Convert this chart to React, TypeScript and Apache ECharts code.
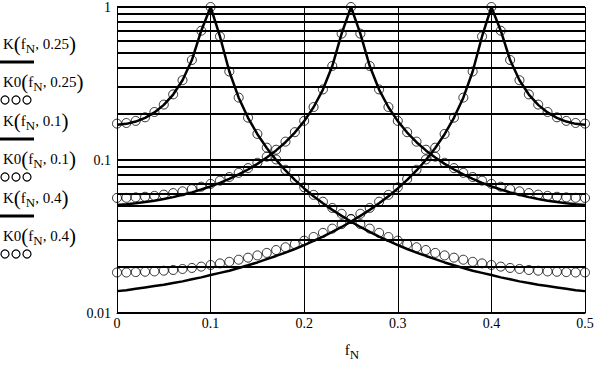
import React, { useEffect, useRef } from "react";
import * as echarts from "echarts";

// normalised frequency f_N (x values)
const F = [
  0, 0.01, 0.02, 0.03, 0.04, 0.05, 0.06, 0.07, 0.08, 0.09, 0.1,
  0.11, 0.12, 0.13, 0.14, 0.15, 0.16, 0.17, 0.18, 0.19, 0.2,
  0.21, 0.22, 0.23, 0.24, 0.25, 0.26, 0.27, 0.28, 0.29, 0.3,
  0.31, 0.32, 0.33, 0.34, 0.35, 0.36, 0.37, 0.38, 0.39, 0.4,
  0.41, 0.42, 0.43, 0.44, 0.45, 0.46, 0.47, 0.48, 0.49, 0.5,
];

// K(f_N, 0.25) – solid line
const K_025 = [
  0.0509, 0.0514, 0.0521, 0.0531, 0.0542, 0.0556, 0.0572, 0.0592, 0.0614, 0.0641, 0.0672,
  0.0709, 0.0753, 0.0805, 0.0867, 0.0943, 0.1037, 0.1155, 0.1307, 0.1511, 0.1794,
  0.2213, 0.2887, 0.4113, 0.6695, 1, 0.6695, 0.4113, 0.2887, 0.2213, 0.1794,
  0.1511, 0.1307, 0.1155, 0.1037, 0.0943, 0.0867, 0.0805, 0.0753, 0.0709, 0.0672,
  0.0641, 0.0614, 0.0592, 0.0572, 0.0556, 0.0542, 0.0531, 0.0521, 0.0514, 0.0509,
];
// K0(f_N, 0.25) – circles
const K0_025 = [
  0.0565, 0.0566, 0.057, 0.0575, 0.0583, 0.0594, 0.0608, 0.0624, 0.0645, 0.0669, 0.0698,
  0.0733, 0.0774, 0.0824, 0.0885, 0.0959, 0.1051, 0.1167, 0.1318, 0.152, 0.1802,
  0.2219, 0.2892, 0.4116, 0.6696, 1, 0.6696, 0.4116, 0.2892, 0.2219, 0.1802,
  0.152, 0.1318, 0.1167, 0.1051, 0.0959, 0.0885, 0.0824, 0.0774, 0.0733, 0.0698,
  0.0669, 0.0645, 0.0624, 0.0608, 0.0594, 0.0583, 0.0575, 0.057, 0.0566, 0.0565,
];
// K(f_N, 0.1)
const K_010 = [
  0.17, 0.1723, 0.1783, 0.1885, 0.2046, 0.2293, 0.2678, 0.3318, 0.4502, 0.6997, 1,
  0.6418, 0.3786, 0.2555, 0.1886, 0.1474, 0.1197, 0.1, 0.0854, 0.0741, 0.0652,
  0.058, 0.0521, 0.0472, 0.0431, 0.0396, 0.0365, 0.0339, 0.0316, 0.0296, 0.0278,
  0.0262, 0.0248, 0.0236, 0.0225, 0.0214, 0.0205, 0.0197, 0.0189, 0.0183, 0.0177,
  0.0171, 0.0166, 0.0161, 0.0157, 0.0153, 0.015, 0.0147, 0.0144, 0.0141, 0.0139,
];
// K0(f_N, 0.1)
const K0_010 = [
  0.1729, 0.1746, 0.1801, 0.1901, 0.2059, 0.2302, 0.2685, 0.3323, 0.4505, 0.6998, 1,
  0.6419, 0.3788, 0.2559, 0.1891, 0.148, 0.1204, 0.1008, 0.0863, 0.0751, 0.0663,
  0.0592, 0.0534, 0.0486, 0.0445, 0.0411, 0.0381, 0.0356, 0.0334, 0.0314, 0.0297,
  0.0282, 0.0269, 0.0258, 0.0247, 0.0238, 0.023, 0.0223, 0.0216, 0.0211, 0.0206,
  0.0201, 0.0197, 0.0194, 0.0191, 0.0189, 0.0187, 0.0186, 0.0185, 0.0184, 0.0184,
];
// K(f_N, 0.4)
const K_040 = [
  0.0139, 0.0141, 0.0144, 0.0147, 0.015, 0.0153, 0.0157, 0.0161, 0.0166, 0.0171, 0.0177,
  0.0183, 0.0189, 0.0197, 0.0205, 0.0214, 0.0225, 0.0236, 0.0248, 0.0262, 0.0278,
  0.0296, 0.0316, 0.0339, 0.0365, 0.0396, 0.0431, 0.0472, 0.0521, 0.058, 0.0652,
  0.0741, 0.0854, 0.1, 0.1197, 0.1474, 0.1886, 0.2555, 0.3786, 0.6418, 1,
  0.6997, 0.4502, 0.3318, 0.2678, 0.2293, 0.2046, 0.1885, 0.1783, 0.1723, 0.17,
];
// K0(f_N, 0.4)
const K0_040 = [
  0.0184, 0.0184, 0.0185, 0.0186, 0.0187, 0.0189, 0.0191, 0.0194, 0.0197, 0.0201, 0.0206,
  0.0211, 0.0216, 0.0223, 0.023, 0.0238, 0.0247, 0.0258, 0.0269, 0.0282, 0.0297,
  0.0314, 0.0334, 0.0356, 0.0381, 0.0411, 0.0445, 0.0486, 0.0534, 0.0592, 0.0663,
  0.0751, 0.0863, 0.1008, 0.1204, 0.148, 0.1891, 0.2559, 0.3788, 0.6419, 1,
  0.6998, 0.4505, 0.3323, 0.2685, 0.2302, 0.2059, 0.1901, 0.1801, 0.1746, 0.1729,
];

// log-grid lines (2..9 of each decade)
const GRID_Y = [
  0.02, 0.03, 0.04, 0.05, 0.06, 0.07, 0.08, 0.09,
  0.2, 0.3, 0.4, 0.5, 0.6, 0.7, 0.8, 0.9,
];

// legend parameter labels
const PARAMS = ["0.25", "0.1", "0.4"];

const FONT = "Liberation Serif";

const RICH = {
  a: { fontFamily: FONT, fontSize: 15, lineHeight: 22, verticalAlign: "middle", fill: "#000", color: "#000" },
  p: { fontFamily: FONT, fontSize: 21, lineHeight: 22, verticalAlign: "middle", fill: "#000", color: "#000" },
  s: { fontFamily: FONT, fontSize: 13, lineHeight: 12, verticalAlign: "bottom", fill: "#000", color: "#000" },
};

const pairs = (ys: number[]) => F.map((x, i) => [x, ys[i]]);

export default function App() {
  const ref = useRef<HTMLDivElement>(null);

  useEffect(() => {
    document.body.style.margin = "0";
    if (!ref.current) return;
    const chart = echarts.init(ref.current, null, { renderer: "svg" });

    const lineSeries = (name: string, ys: number[], extra: any = {}) => ({
      name,
      type: "line",
      data: pairs(ys),
      symbol: "none",
      showSymbol: false,
      lineStyle: { color: "#000", width: 2.5 },
      z: 3,
      ...extra,
    });
    const circleSeries = (name: string, ys: number[]) => ({
      name,
      type: "scatter",
      data: pairs(ys),
      symbol: "circle",
      symbolSize: 9,
      clip: false,
      itemStyle: { color: "rgba(0,0,0,0)", borderColor: "#000", borderWidth: 1 },
      z: 4,
    });

    const blockY = [44, 121, 198];
    const graphics: any[] = [];
    PARAMS.forEach((p, i) => {
      const b = blockY[i];
      graphics.push({
        type: "text",
        x: 3,
        y: b,
        style: { text: `{a|K}{p|(}{a|f}{s|N}{a|, ${p}}{p|)}`, rich: RICH, verticalAlign: "middle", fill: "#000" },
      });
      graphics.push({
        type: "line",
        shape: { x1: 0, y1: b + 18, x2: 34, y2: b + 18 },
        style: { stroke: "#000", lineWidth: 3 },
      });
      graphics.push({
        type: "text",
        x: 3,
        y: b + 38,
        style: { text: `{a|K0}{p|(}{a|f}{s|N}{a|, ${p}}{p|)}`, rich: RICH, verticalAlign: "middle", fill: "#000" },
      });
      [5, 16, 27].forEach((cx) => {
        graphics.push({
          type: "circle",
          shape: { cx, cy: b + 56, r: 4 },
          style: { stroke: "#000", lineWidth: 1.2, fill: "none" },
        });
      });
    });
    graphics.push({
      type: "text",
      x: 352,
      y: 350,
      style: { text: "{a|f}{s|N}", rich: RICH, align: "center", verticalAlign: "middle", fill: "#000" },
    });

    chart.setOption({
      animation: false,
      backgroundColor: "#fff",
      grid: { left: 117, right: 12, top: 4, bottom: 52 },
      xAxis: {
        type: "value",
        min: 0,
        max: 0.5,
        interval: 0.1,
        axisLine: { show: true, lineStyle: { color: "#000", width: 1 } },
        axisTick: { show: false },
        axisLabel: { color: "#000", fontFamily: FONT, fontSize: 14, margin: 3 },
        splitLine: { show: true, lineStyle: { color: "#000", width: 1 } },
      },
      yAxis: {
        type: "log",
        logBase: 10,
        min: 0.01,
        max: 1,
        axisLine: { show: true, lineStyle: { color: "#000", width: 1 } },
        axisTick: { show: false },
        axisLabel: {
          color: "#000",
          fontFamily: FONT,
          fontSize: 14,
          margin: 6,
          padding: [8, 0, 0, 0],
          formatter: (v: number) => String(+Number(v).toPrecision(2)),
        },
        splitLine: { show: true, lineStyle: { color: "#000", width: 2 } },
        minorSplitLine: { show: false },
      },
      series: [
        lineSeries("K(fN,0.25)", K_025, {
          markLine: {
            silent: true,
            symbol: ["none", "none"],
            label: { show: false },
            lineStyle: { color: "#000", width: 2, type: "solid" },
            emphasis: { disabled: true },
            data: GRID_Y.map((v) => ({ yAxis: v })),
            z: 1,
          },
        }),
        circleSeries("K0(fN,0.25)", K0_025),
        lineSeries("K(fN,0.1)", K_010),
        circleSeries("K0(fN,0.1)", K0_010),
        lineSeries("K(fN,0.4)", K_040),
        circleSeries("K0(fN,0.4)", K0_040),
      ],
      graphic: graphics,
    });

    return () => chart.dispose();
  }, []);

  return <div ref={ref} style={{ width: 597, height: 365 }} />;
}
